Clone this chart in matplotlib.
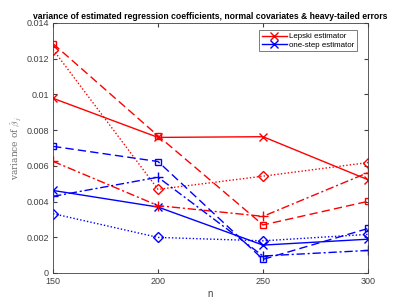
import matplotlib
matplotlib.use('Agg')
import matplotlib.pyplot as plt
import numpy as np

n = [150, 200, 250, 300]

# red: Lepski estimator
lepski_x = [0.00978, 0.00759, 0.00763, 0.00522]
lepski_sq = [0.01284, 0.00768, 0.00269, 0.00401]
lepski_dm = [0.01251, 0.00468, 0.00542, 0.00618]
lepski_pl = [0.00625, 0.00377, 0.00317, 0.00562]

# blue: one-step estimator
onestep_x = [0.00462, 0.00369, 0.00156, 0.00189]
onestep_sq = [0.00709, 0.00624, 0.00076, 0.00249]
onestep_dm = [0.00332, 0.00199, 0.00180, 0.00216]
onestep_pl = [0.00429, 0.00536, 0.00095, 0.00126]

plt.rcParams['font.family'] = ['Liberation Sans', 'DejaVu Sans']
plt.rcParams['mathtext.fontset'] = 'cm'
fig = plt.figure(figsize=(4.08, 3.06), dpi=100)
ax = fig.add_axes([0.130, 0.108, 0.772, 0.817])

lw = 1.0
mk = dict(markerfacecolor='none', markeredgewidth=1.0)

ax.plot(n, lepski_x, 'r-', marker='x', ms=6, lw=lw, label='Lepski estimator', **mk)
ax.plot(n, onestep_x, 'b-', marker='x', ms=6, lw=lw, label='one-step estimator', **mk)
ax.plot(n, lepski_sq, color='r', ls=(0, (6, 3)), marker='s', ms=5, lw=lw, **mk)
ax.plot(n, lepski_dm, color='r', ls=(0, (1, 1.5)), marker='D', ms=5, lw=lw, **mk)
ax.plot(n, lepski_pl, color='r', ls=(0, (6, 2, 1.5, 2)), marker='+', ms=7, lw=lw, **mk)
ax.plot(n, onestep_sq, color='b', ls=(0, (6, 3)), marker='s', ms=5, lw=lw, **mk)
ax.plot(n, onestep_dm, color='b', ls=(0, (1, 1.5)), marker='D', ms=5, lw=lw, **mk)
ax.plot(n, onestep_pl, color='b', ls=(0, (6, 2, 1.5, 2)), marker='+', ms=7, lw=lw, **mk)

ax.set_xlim(150, 300)
ax.set_ylim(0, 0.014)
ax.set_xticks(n)
ax.set_yticks([0, 0.002, 0.004, 0.006, 0.008, 0.01, 0.012, 0.014])
ax.set_yticklabels(['0', '0.002', '0.004', '0.006', '0.008', '0.01', '0.012', '0.014'])
ax.tick_params(direction='in', length=3, labelsize=6.5, colors='#404040',
               top=True, right=True, pad=3)
for s in ax.spines.values():
    s.set_color('#404040')
    s.set_linewidth(0.6)

ax.set_xlabel('n', fontsize=7, color='#404040', labelpad=2)
ax.set_ylabel(r'variance of $\hat{\beta}_j$', fontsize=6.5, color='#707070',
              family='serif', labelpad=2)
ax.set_title('variance of estimated regression coefficients, normal covariates & heavy-tailed errors',
             fontsize=6.2, fontweight='bold', pad=3)

leg = ax.legend(loc='upper right', fontsize=5.7, frameon=True, fancybox=False,
                borderpad=0.3, handlelength=3.2, handletextpad=0.3,
                labelspacing=0.1, borderaxespad=0, bbox_to_anchor=(0.965, 0.97))
leg.get_frame().set_edgecolor('#404040')
leg.get_frame().set_linewidth(0.6)

fig.savefig('out.png', dpi=100)
